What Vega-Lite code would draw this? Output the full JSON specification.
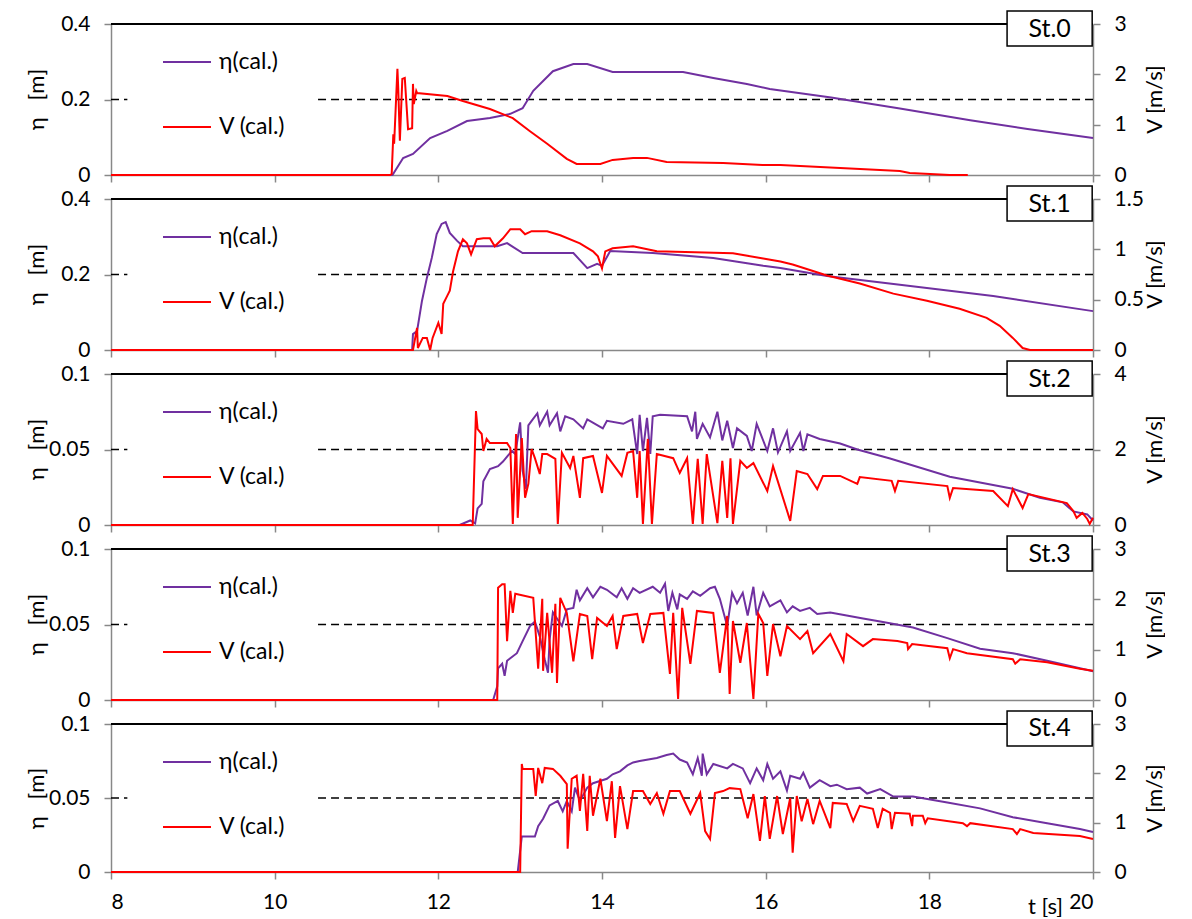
{
"$schema":"https://vega.github.io/schema/vega-lite/v6.json",
"padding":{"left":25,"top":10,"right":0,"bottom":0},
"spacing":0,
"config":{"view":{"stroke":null},"font":"Lato",
"axis":{"domainColor":"#888888","tickColor":"#888888","labelColor":"black","labelFontSize":21,"labelFont":"Lato","titleFont":"Lato","titleFontSize":22,"titleFontWeight":"normal","titleColor":"black","grid":false,"tickSize":7,"labelPadding":14,"domainWidth":1.5,"tickWidth":1.5},
"legend":{"orient":"none","legendX":51,"legendY":13,"symbolType":"stroke","symbolSize":2304,"symbolStrokeWidth":2,"labelFontSize":23,"labelFont":"Lato","labelColor":"black","rowPadding":28,"padding":0,"labelOffset":7,"title":null}},
"resolve":{"scale":{"color":"independent"},"legend":{"color":"independent"}},
"datasets":{
"e0":[{"t":8,"y":0},{"t":11.44,"y":0},{"t":11.57,"y":0.045},{"t":11.69,"y":0.056},{"t":11.9,"y":0.098},{"t":12.11,"y":0.117},{"t":12.35,"y":0.143},{"t":12.63,"y":0.151},{"t":12.88,"y":0.162},{"t":13.03,"y":0.177},{"t":13.16,"y":0.223},{"t":13.4,"y":0.275},{"t":13.65,"y":0.294},{"t":13.82,"y":0.294},{"t":14.13,"y":0.273},{"t":14.99,"y":0.273},{"t":15.36,"y":0.257},{"t":15.77,"y":0.241},{"t":16.05,"y":0.228},{"t":16.8,"y":0.205},{"t":17.64,"y":0.176},{"t":18.5,"y":0.145},{"t":19.2,"y":0.122},{"t":20,"y":0.098}],
"v0":[{"t":8,"y":0},{"t":11.41,"y":0},{"t":11.43,"y":0.02},{"t":11.45,"y":0.81},{"t":11.46,"y":0.62},{"t":11.5,"y":2.11},{"t":11.51,"y":1.73},{"t":11.53,"y":0.68},{"t":11.56,"y":1.91},{"t":11.59,"y":1.93},{"t":11.63,"y":0.91},{"t":11.68,"y":0.93},{"t":11.69,"y":1.81},{"t":11.7,"y":1.41},{"t":11.73,"y":1.67},{"t":11.74,"y":1.63},{"t":12.11,"y":1.57},{"t":12.3,"y":1.47},{"t":12.63,"y":1.31},{"t":12.91,"y":1.13},{"t":13.12,"y":0.87},{"t":13.33,"y":0.62},{"t":13.57,"y":0.32},{"t":13.69,"y":0.22},{"t":13.98,"y":0.22},{"t":14.13,"y":0.3},{"t":14.38,"y":0.34},{"t":14.55,"y":0.34},{"t":14.79,"y":0.26},{"t":15.48,"y":0.24},{"t":15.96,"y":0.2},{"t":16.18,"y":0.2},{"t":17.64,"y":0.08},{"t":17.76,"y":0.04},{"t":18.01,"y":0.02},{"t":18.25,"y":0},{"t":18.47,"y":0}],
"e1":[{"t":8,"y":0},{"t":11.68,"y":0},{"t":11.69,"y":0.042},{"t":11.74,"y":0.05},{"t":11.8,"y":0.13},{"t":11.86,"y":0.191},{"t":11.92,"y":0.244},{"t":11.98,"y":0.307},{"t":12.04,"y":0.334},{"t":12.09,"y":0.339},{"t":12.14,"y":0.31},{"t":12.23,"y":0.289},{"t":12.3,"y":0.275},{"t":12.72,"y":0.275},{"t":12.84,"y":0.283},{"t":13.03,"y":0.257},{"t":13.65,"y":0.257},{"t":13.82,"y":0.217},{"t":13.94,"y":0.228},{"t":14.0,"y":0.223},{"t":14.1,"y":0.262},{"t":14.62,"y":0.257},{"t":15.36,"y":0.244},{"t":15.97,"y":0.223},{"t":16.18,"y":0.217},{"t":16.75,"y":0.196},{"t":17.97,"y":0.164},{"t":18.78,"y":0.143},{"t":20,"y":0.103}],
"v1":[{"t":8,"y":0},{"t":11.69,"y":0},{"t":11.74,"y":0.22},{"t":11.75,"y":0.02},{"t":11.81,"y":0.12},{"t":11.86,"y":0.12},{"t":11.9,"y":0},{"t":11.93,"y":0.12},{"t":12.0,"y":0.27},{"t":12.04,"y":0.16},{"t":12.06,"y":0.46},{"t":12.11,"y":0.54},{"t":12.14,"y":0.59},{"t":12.18,"y":0.78},{"t":12.24,"y":0.98},{"t":12.3,"y":1.1},{"t":12.35,"y":1.06},{"t":12.4,"y":0.95},{"t":12.47,"y":1.1},{"t":12.55,"y":1.11},{"t":12.63,"y":1.11},{"t":12.69,"y":1.03},{"t":12.79,"y":1.11},{"t":12.88,"y":1.2},{"t":13.0,"y":1.2},{"t":13.06,"y":1.15},{"t":13.14,"y":1.18},{"t":13.33,"y":1.18},{"t":13.49,"y":1.14},{"t":13.73,"y":1.06},{"t":13.89,"y":0.98},{"t":13.95,"y":0.93},{"t":14.0,"y":0.81},{"t":14.04,"y":0.98},{"t":14.13,"y":1.01},{"t":14.38,"y":1.03},{"t":14.67,"y":0.98},{"t":15.6,"y":0.96},{"t":15.97,"y":0.91},{"t":16.18,"y":0.88},{"t":16.33,"y":0.85},{"t":16.75,"y":0.74},{"t":17.15,"y":0.66},{"t":17.56,"y":0.56},{"t":17.97,"y":0.49},{"t":18.37,"y":0.41},{"t":18.7,"y":0.32},{"t":18.86,"y":0.24},{"t":19.02,"y":0.12},{"t":19.14,"y":0.02},{"t":19.23,"y":0},{"t":20,"y":0}],
"e2":[{"t":8,"y":0},{"t":12.26,"y":0},{"t":12.39,"y":0.003},{"t":12.45,"y":0.001},{"t":12.48,"y":0.011},{"t":12.53,"y":0.014},{"t":12.55,"y":0.029},{"t":12.63,"y":0.037},{"t":12.73,"y":0.039},{"t":12.79,"y":0.042},{"t":12.85,"y":0.046},{"t":12.9,"y":0.049},{"t":12.94,"y":0.047},{"t":13.0,"y":0.068},{"t":13.03,"y":0.036},{"t":13.07,"y":0.024},{"t":13.1,"y":0.066},{"t":13.14,"y":0.069},{"t":13.21,"y":0.074},{"t":13.24,"y":0.066},{"t":13.33,"y":0.075},{"t":13.36,"y":0.066},{"t":13.45,"y":0.074},{"t":13.49,"y":0.062},{"t":13.55,"y":0.072},{"t":13.65,"y":0.07},{"t":13.77,"y":0.064},{"t":13.82,"y":0.07},{"t":14.01,"y":0.064},{"t":14.06,"y":0.069},{"t":14.26,"y":0.067},{"t":14.37,"y":0.07},{"t":14.43,"y":0.047},{"t":14.46,"y":0.073},{"t":14.5,"y":0.049},{"t":14.55,"y":0.071},{"t":14.59,"y":0.047},{"t":14.62,"y":0.072},{"t":14.71,"y":0.073},{"t":15.04,"y":0.072},{"t":15.1,"y":0.062},{"t":15.14,"y":0.075},{"t":15.16,"y":0.057},{"t":15.23,"y":0.067},{"t":15.32,"y":0.058},{"t":15.41,"y":0.075},{"t":15.47,"y":0.056},{"t":15.53,"y":0.069},{"t":15.6,"y":0.051},{"t":15.65,"y":0.064},{"t":15.77,"y":0.059},{"t":15.83,"y":0.049},{"t":15.89,"y":0.067},{"t":16.02,"y":0.049},{"t":16.09,"y":0.064},{"t":16.15,"y":0.048},{"t":16.26,"y":0.062},{"t":16.3,"y":0.049},{"t":16.42,"y":0.061},{"t":16.46,"y":0.049},{"t":16.51,"y":0.06},{"t":16.66,"y":0.057},{"t":16.91,"y":0.054},{"t":17.12,"y":0.05},{"t":17.52,"y":0.044},{"t":18.25,"y":0.032},{"t":19.02,"y":0.024},{"t":19.35,"y":0.018},{"t":19.63,"y":0.015},{"t":19.76,"y":0.009},{"t":19.93,"y":0.007},{"t":20,"y":0.003}],
"v2":[{"t":8,"y":0},{"t":12.42,"y":0},{"t":12.46,"y":3.02},{"t":12.48,"y":2.54},{"t":12.53,"y":2.41},{"t":12.55,"y":1.96},{"t":12.59,"y":2.28},{"t":12.63,"y":2.17},{"t":12.84,"y":2.17},{"t":12.88,"y":2.04},{"t":12.91,"y":0.03},{"t":12.95,"y":2.41},{"t":12.97,"y":0.19},{"t":13.02,"y":2.3},{"t":13.06,"y":0.72},{"t":13.1,"y":1.09},{"t":13.14,"y":2.01},{"t":13.18,"y":1.77},{"t":13.24,"y":1.35},{"t":13.27,"y":1.88},{"t":13.33,"y":1.88},{"t":13.43,"y":1.75},{"t":13.46,"y":0.03},{"t":13.51,"y":1.91},{"t":13.61,"y":1.51},{"t":13.65,"y":1.83},{"t":13.73,"y":0.72},{"t":13.77,"y":1.77},{"t":13.89,"y":1.83},{"t":14.0,"y":0.85},{"t":14.06,"y":1.83},{"t":14.24,"y":1.3},{"t":14.31,"y":1.91},{"t":14.38,"y":1.96},{"t":14.43,"y":0.72},{"t":14.46,"y":1.96},{"t":14.5,"y":0.03},{"t":14.56,"y":2.28},{"t":14.61,"y":0.03},{"t":14.67,"y":1.88},{"t":14.87,"y":1.77},{"t":14.95,"y":1.38},{"t":15.04,"y":1.77},{"t":15.11,"y":0.03},{"t":15.17,"y":1.75},{"t":15.23,"y":0.03},{"t":15.28,"y":1.88},{"t":15.41,"y":0.05},{"t":15.47,"y":1.7},{"t":15.53,"y":0.19},{"t":15.57,"y":1.77},{"t":15.6,"y":0.03},{"t":15.69,"y":1.7},{"t":15.77,"y":1.51},{"t":15.85,"y":1.64},{"t":16.02,"y":0.9},{"t":16.09,"y":1.56},{"t":16.3,"y":0.11},{"t":16.38,"y":1.43},{"t":16.51,"y":1.35},{"t":16.63,"y":0.95},{"t":16.7,"y":1.3},{"t":16.91,"y":1.3},{"t":17.12,"y":1.09},{"t":17.15,"y":1.27},{"t":17.54,"y":1.17},{"t":17.58,"y":0.9},{"t":17.62,"y":1.17},{"t":18.22,"y":1.03},{"t":18.25,"y":0.72},{"t":18.29,"y":0.98},{"t":18.78,"y":0.9},{"t":18.96,"y":0.5},{"t":19.02,"y":0.95},{"t":19.14,"y":0.45},{"t":19.21,"y":0.82},{"t":19.68,"y":0.58},{"t":19.76,"y":0.37},{"t":19.8,"y":0.19},{"t":19.87,"y":0.32},{"t":19.93,"y":0.16},{"t":19.96,"y":0.03},{"t":20,"y":0.19}],
"e3":[{"t":8,"y":0},{"t":12.67,"y":0},{"t":12.72,"y":0.009},{"t":12.73,"y":0.021},{"t":12.78,"y":0.024},{"t":12.81,"y":0.016},{"t":12.84,"y":0.026},{"t":12.96,"y":0.031},{"t":13.03,"y":0.039},{"t":13.12,"y":0.049},{"t":13.18,"y":0.052},{"t":13.24,"y":0.042},{"t":13.3,"y":0.027},{"t":13.34,"y":0.018},{"t":13.36,"y":0.04},{"t":13.4,"y":0.058},{"t":13.51,"y":0.049},{"t":13.57,"y":0.06},{"t":13.65,"y":0.061},{"t":13.69,"y":0.073},{"t":13.73,"y":0.066},{"t":13.82,"y":0.074},{"t":13.89,"y":0.068},{"t":13.98,"y":0.075},{"t":14.06,"y":0.073},{"t":14.18,"y":0.068},{"t":14.24,"y":0.074},{"t":14.31,"y":0.067},{"t":14.38,"y":0.074},{"t":14.46,"y":0.071},{"t":14.62,"y":0.075},{"t":14.71,"y":0.071},{"t":14.77,"y":0.077},{"t":14.81,"y":0.059},{"t":14.86,"y":0.071},{"t":14.92,"y":0.06},{"t":14.95,"y":0.07},{"t":15.04,"y":0.067},{"t":15.11,"y":0.072},{"t":15.2,"y":0.069},{"t":15.32,"y":0.074},{"t":15.38,"y":0.075},{"t":15.44,"y":0.067},{"t":15.53,"y":0.049},{"t":15.59,"y":0.071},{"t":15.65,"y":0.064},{"t":15.72,"y":0.071},{"t":15.78,"y":0.056},{"t":15.85,"y":0.075},{"t":15.89,"y":0.056},{"t":15.97,"y":0.071},{"t":16.05,"y":0.062},{"t":16.18,"y":0.066},{"t":16.26,"y":0.058},{"t":16.33,"y":0.062},{"t":16.42,"y":0.059},{"t":16.54,"y":0.061},{"t":16.63,"y":0.057},{"t":16.79,"y":0.058},{"t":16.99,"y":0.056},{"t":17.19,"y":0.054},{"t":17.4,"y":0.052},{"t":17.8,"y":0.048},{"t":18.22,"y":0.041},{"t":18.62,"y":0.034},{"t":19.02,"y":0.031},{"t":19.44,"y":0.026},{"t":19.84,"y":0.021},{"t":20,"y":0.019}],
"v3":[{"t":8,"y":0},{"t":12.72,"y":0},{"t":12.73,"y":2.23},{"t":12.78,"y":2.3},{"t":12.81,"y":2.3},{"t":12.84,"y":1.17},{"t":12.88,"y":2.17},{"t":12.91,"y":1.73},{"t":12.94,"y":2.11},{"t":13.16,"y":2.03},{"t":13.22,"y":0.62},{"t":13.27,"y":2.01},{"t":13.28,"y":0.58},{"t":13.33,"y":1.73},{"t":13.39,"y":0.54},{"t":13.43,"y":1.91},{"t":13.45,"y":0.34},{"t":13.49,"y":2.03},{"t":13.57,"y":1.73},{"t":13.65,"y":0.77},{"t":13.73,"y":1.71},{"t":13.82,"y":1.67},{"t":13.88,"y":0.81},{"t":13.94,"y":1.63},{"t":14.06,"y":1.47},{"t":14.13,"y":1.67},{"t":14.18,"y":1.01},{"t":14.26,"y":1.67},{"t":14.43,"y":1.71},{"t":14.5,"y":1.13},{"t":14.59,"y":1.71},{"t":14.75,"y":1.73},{"t":14.83,"y":0.52},{"t":14.87,"y":1.73},{"t":14.93,"y":0.02},{"t":14.98,"y":1.83},{"t":15.08,"y":0.72},{"t":15.16,"y":1.77},{"t":15.36,"y":1.73},{"t":15.44,"y":0.54},{"t":15.53,"y":1.67},{"t":15.56,"y":0.12},{"t":15.6,"y":1.57},{"t":15.69,"y":0.74},{"t":15.77,"y":1.53},{"t":15.85,"y":0.02},{"t":15.91,"y":1.71},{"t":15.97,"y":1.53},{"t":16.02,"y":0.48},{"t":16.09,"y":1.51},{"t":16.18,"y":0.87},{"t":16.26,"y":1.47},{"t":16.42,"y":1.21},{"t":16.51,"y":1.37},{"t":16.58,"y":0.93},{"t":16.79,"y":1.31},{"t":16.95,"y":0.77},{"t":16.99,"y":1.31},{"t":17.19,"y":1.07},{"t":17.31,"y":1.21},{"t":17.61,"y":1.17},{"t":17.73,"y":1.13},{"t":17.74,"y":1.01},{"t":17.79,"y":1.11},{"t":18.22,"y":1.03},{"t":18.25,"y":0.83},{"t":18.29,"y":1.01},{"t":18.46,"y":0.93},{"t":19.02,"y":0.81},{"t":19.05,"y":0.72},{"t":19.11,"y":0.81},{"t":19.44,"y":0.75},{"t":19.84,"y":0.62},{"t":20,"y":0.58}],
"e4":[{"t":8,"y":0},{"t":12.97,"y":0},{"t":13.02,"y":0.024},{"t":13.18,"y":0.024},{"t":13.22,"y":0.031},{"t":13.28,"y":0.036},{"t":13.36,"y":0.045},{"t":13.46,"y":0.048},{"t":13.52,"y":0.041},{"t":13.57,"y":0.048},{"t":13.63,"y":0.041},{"t":13.67,"y":0.057},{"t":13.73,"y":0.048},{"t":13.82,"y":0.057},{"t":13.89,"y":0.06},{"t":14.06,"y":0.063},{"t":14.13,"y":0.066},{"t":14.22,"y":0.068},{"t":14.31,"y":0.072},{"t":14.38,"y":0.074},{"t":14.46,"y":0.075},{"t":14.67,"y":0.077},{"t":14.79,"y":0.079},{"t":14.87,"y":0.08},{"t":14.95,"y":0.076},{"t":15.04,"y":0.074},{"t":15.11,"y":0.066},{"t":15.17,"y":0.077},{"t":15.22,"y":0.065},{"t":15.23,"y":0.08},{"t":15.28,"y":0.066},{"t":15.36,"y":0.073},{"t":15.53,"y":0.07},{"t":15.6,"y":0.073},{"t":15.72,"y":0.07},{"t":15.81,"y":0.06},{"t":15.89,"y":0.07},{"t":15.97,"y":0.062},{"t":16.02,"y":0.073},{"t":16.09,"y":0.063},{"t":16.18,"y":0.068},{"t":16.26,"y":0.055},{"t":16.3,"y":0.065},{"t":16.42,"y":0.063},{"t":16.46,"y":0.067},{"t":16.54,"y":0.057},{"t":16.66,"y":0.062},{"t":16.79,"y":0.058},{"t":16.87,"y":0.059},{"t":16.99,"y":0.056},{"t":17.15,"y":0.057},{"t":17.24,"y":0.053},{"t":17.4,"y":0.056},{"t":17.56,"y":0.051},{"t":17.8,"y":0.051},{"t":18.22,"y":0.047},{"t":18.62,"y":0.043},{"t":19.02,"y":0.037},{"t":19.44,"y":0.033},{"t":19.84,"y":0.029},{"t":20,"y":0.027}],
"v4":[{"t":8,"y":0},{"t":13.0,"y":0},{"t":13.02,"y":2.19},{"t":13.03,"y":2.09},{"t":13.16,"y":2.09},{"t":13.19,"y":1.54},{"t":13.22,"y":2.11},{"t":13.27,"y":1.8},{"t":13.3,"y":2.11},{"t":13.4,"y":2.09},{"t":13.49,"y":1.95},{"t":13.57,"y":1.78},{"t":13.58,"y":0.47},{"t":13.63,"y":1.89},{"t":13.69,"y":1.95},{"t":13.73,"y":1.24},{"t":13.77,"y":1.99},{"t":13.82,"y":0.83},{"t":13.85,"y":1.95},{"t":13.89,"y":1.14},{"t":13.98,"y":1.89},{"t":14.06,"y":1.03},{"t":14.12,"y":1.84},{"t":14.16,"y":0.69},{"t":14.22,"y":1.74},{"t":14.31,"y":0.87},{"t":14.38,"y":1.64},{"t":14.5,"y":1.64},{"t":14.59,"y":1.38},{"t":14.67,"y":1.6},{"t":14.75,"y":1.18},{"t":14.83,"y":1.64},{"t":14.95,"y":1.64},{"t":15.08,"y":1.18},{"t":15.2,"y":1.6},{"t":15.26,"y":0.83},{"t":15.32,"y":0.67},{"t":15.38,"y":1.6},{"t":15.48,"y":1.64},{"t":15.56,"y":1.7},{"t":15.69,"y":1.68},{"t":15.78,"y":1.09},{"t":15.85,"y":1.58},{"t":15.93,"y":0.63},{"t":15.99,"y":1.54},{"t":16.05,"y":0.67},{"t":16.14,"y":1.54},{"t":16.21,"y":0.77},{"t":16.3,"y":1.5},{"t":16.33,"y":0.39},{"t":16.38,"y":1.54},{"t":16.44,"y":1.03},{"t":16.51,"y":1.48},{"t":16.58,"y":0.97},{"t":16.66,"y":1.44},{"t":16.79,"y":0.89},{"t":16.82,"y":1.4},{"t":16.99,"y":1.38},{"t":17.07,"y":1.03},{"t":17.15,"y":1.34},{"t":17.31,"y":1.28},{"t":17.37,"y":0.89},{"t":17.43,"y":1.28},{"t":17.52,"y":1.2},{"t":17.54,"y":0.87},{"t":17.58,"y":1.2},{"t":17.76,"y":1.18},{"t":17.79,"y":0.93},{"t":17.8,"y":1.14},{"t":17.92,"y":1.14},{"t":17.95,"y":0.99},{"t":17.98,"y":1.09},{"t":18.41,"y":0.99},{"t":18.46,"y":0.93},{"t":18.5,"y":0.99},{"t":19.02,"y":0.87},{"t":19.07,"y":0.77},{"t":19.11,"y":0.87},{"t":19.27,"y":0.79},{"t":19.84,"y":0.73},{"t":20,"y":0.67}]
},
"vconcat":[
{"width":982,"height":151,"resolve":{"scale":{"y":"independent"}},"layer":[
 {"layer":[
  {"data":{"values":[{}]},"mark":{"type":"rule","color":"black","strokeDash":[8,5],"strokeWidth":1.5},"encoding":{"x":{"datum":8,"type":"quantitative","scale":{"domain":[8,20],"nice":false,"zero":false}},"x2":{"datum":8.2},"y":{"datum":0.2,"type":"quantitative"}}},
  {"data":{"values":[{}]},"mark":{"type":"rule","color":"black","strokeDash":[8,5],"strokeWidth":1.5},"encoding":{"x":{"datum":10.53,"type":"quantitative","scale":{"domain":[8,20],"nice":false,"zero":false}},"x2":{"datum":20},"y":{"datum":0.2,"type":"quantitative"}}},
  {"data":{"values":[{}]},"mark":{"type":"rule","color":"black","strokeWidth":2},"encoding":{"x":{"datum":8,"type":"quantitative","scale":{"domain":[8,20],"nice":false,"zero":false}},"x2":{"datum":20},"y":{"datum":0.4,"type":"quantitative"}}},
  {"data":{"name":"e0"},"mark":{"type":"line","strokeWidth":2},"encoding":{
   "x":{"field":"t","type":"quantitative","scale":{"domain":[8,20],"nice":false,"zero":false},"axis":{"values":[8,10,12,14,16,18,20],"labels":false,"title":null}},
   "y":{"field":"y","type":"quantitative","scale":{"domain":[0,0.4],"nice":false},"axis":{"orient":"left","values":[0,0.2,0.4],"format":"~g","title":"η \u00a0 [m]","titleAngle":-90,"titleX":-75,"titleY":75,"titleAlign":"center","titleBaseline":"middle"}},
   "color":{"datum":"η(cal.)","type":"nominal","scale":{"domain":["η(cal.)","V (cal.)"],"range":["#7030A0","#FF0000"]}}}},
  {"data":{"values":[{"s":"St.0"}]},"mark":{"type":"rect","fill":"white","stroke":"black","strokeWidth":1.5},"encoding":{"x":{"datum":18.95,"type":"quantitative","scale":{"domain":[8,20],"nice":false,"zero":false}},"x2":{"datum":19.99},"y":{"datum":0.4344,"type":"quantitative"},"y2":{"datum":0.3417}}},
  {"data":{"values":[{"s":"St.0"}]},"mark":{"type":"text","fontSize":25,"font":"Lato","color":"black"},"encoding":{"x":{"datum":19.47,"type":"quantitative","scale":{"domain":[8,20],"nice":false,"zero":false}},"y":{"datum":0.388,"type":"quantitative"},"text":{"field":"s"}}}
 ]},
 {"data":{"name":"v0"},"mark":{"type":"line","strokeWidth":2},"encoding":{
   "x":{"field":"t","type":"quantitative","scale":{"domain":[8,20],"nice":false,"zero":false}},
   "y":{"field":"y","type":"quantitative","scale":{"domain":[0,3],"nice":false},"axis":{"orient":"right","values":[0,1,2,3],"format":"~g","title":"V [m/s]","titleAngle":-90,"titleX":61,"titleY":75,"titleAlign":"center","titleBaseline":"middle"}},
   "color":{"datum":"V (cal.)","type":"nominal"}}}
]},
{"width":982,"height":151,"resolve":{"scale":{"y":"independent"}},"layer":[
 {"layer":[
  {"data":{"values":[{}]},"mark":{"type":"rule","color":"black","strokeDash":[8,5],"strokeWidth":1.5},"encoding":{"x":{"datum":8,"type":"quantitative","scale":{"domain":[8,20],"nice":false,"zero":false}},"x2":{"datum":8.2},"y":{"datum":0.2,"type":"quantitative"}}},
  {"data":{"values":[{}]},"mark":{"type":"rule","color":"black","strokeDash":[8,5],"strokeWidth":1.5},"encoding":{"x":{"datum":10.53,"type":"quantitative","scale":{"domain":[8,20],"nice":false,"zero":false}},"x2":{"datum":20},"y":{"datum":0.2,"type":"quantitative"}}},
  {"data":{"values":[{}]},"mark":{"type":"rule","color":"black","strokeWidth":2},"encoding":{"x":{"datum":8,"type":"quantitative","scale":{"domain":[8,20],"nice":false,"zero":false}},"x2":{"datum":20},"y":{"datum":0.4,"type":"quantitative"}}},
  {"data":{"name":"e1"},"mark":{"type":"line","strokeWidth":2},"encoding":{
   "x":{"field":"t","type":"quantitative","scale":{"domain":[8,20],"nice":false,"zero":false},"axis":{"values":[8,10,12,14,16,18,20],"labels":false,"title":null}},
   "y":{"field":"y","type":"quantitative","scale":{"domain":[0,0.4],"nice":false},"axis":{"orient":"left","values":[0,0.2,0.4],"format":"~g","title":"η \u00a0 [m]","titleAngle":-90,"titleX":-75,"titleY":75,"titleAlign":"center","titleBaseline":"middle"}},
   "color":{"datum":"η(cal.)","type":"nominal","scale":{"domain":["η(cal.)","V (cal.)"],"range":["#7030A0","#FF0000"]}}}},
  {"data":{"values":[{"s":"St.1"}]},"mark":{"type":"rect","fill":"white","stroke":"black","strokeWidth":1.5},"encoding":{"x":{"datum":18.95,"type":"quantitative","scale":{"domain":[8,20],"nice":false,"zero":false}},"x2":{"datum":19.99},"y":{"datum":0.4344,"type":"quantitative"},"y2":{"datum":0.3417}}},
  {"data":{"values":[{"s":"St.1"}]},"mark":{"type":"text","fontSize":25,"font":"Lato","color":"black"},"encoding":{"x":{"datum":19.47,"type":"quantitative","scale":{"domain":[8,20],"nice":false,"zero":false}},"y":{"datum":0.388,"type":"quantitative"},"text":{"field":"s"}}}
 ]},
 {"data":{"name":"v1"},"mark":{"type":"line","strokeWidth":2},"encoding":{
   "x":{"field":"t","type":"quantitative","scale":{"domain":[8,20],"nice":false,"zero":false}},
   "y":{"field":"y","type":"quantitative","scale":{"domain":[0,1.5],"nice":false},"axis":{"orient":"right","values":[0,0.5,1,1.5],"format":"~g","title":"V [m/s]","titleAngle":-90,"titleX":61,"titleY":75,"titleAlign":"center","titleBaseline":"middle"}},
   "color":{"datum":"V (cal.)","type":"nominal"}}}
]},
{"width":982,"height":151,"resolve":{"scale":{"y":"independent"}},"layer":[
 {"layer":[
  {"data":{"values":[{}]},"mark":{"type":"rule","color":"black","strokeDash":[8,5],"strokeWidth":1.5},"encoding":{"x":{"datum":8,"type":"quantitative","scale":{"domain":[8,20],"nice":false,"zero":false}},"x2":{"datum":8.2},"y":{"datum":0.05,"type":"quantitative"}}},
  {"data":{"values":[{}]},"mark":{"type":"rule","color":"black","strokeDash":[8,5],"strokeWidth":1.5},"encoding":{"x":{"datum":10.53,"type":"quantitative","scale":{"domain":[8,20],"nice":false,"zero":false}},"x2":{"datum":20},"y":{"datum":0.05,"type":"quantitative"}}},
  {"data":{"values":[{}]},"mark":{"type":"rule","color":"black","strokeWidth":2},"encoding":{"x":{"datum":8,"type":"quantitative","scale":{"domain":[8,20],"nice":false,"zero":false}},"x2":{"datum":20},"y":{"datum":0.1,"type":"quantitative"}}},
  {"data":{"name":"e2"},"mark":{"type":"line","strokeWidth":2},"encoding":{
   "x":{"field":"t","type":"quantitative","scale":{"domain":[8,20],"nice":false,"zero":false},"axis":{"values":[8,10,12,14,16,18,20],"labels":false,"title":null}},
   "y":{"field":"y","type":"quantitative","scale":{"domain":[0,0.1],"nice":false},"axis":{"orient":"left","values":[0,0.05,0.1],"format":"~g","title":"η \u00a0 [m]","titleAngle":-90,"titleX":-75,"titleY":75,"titleAlign":"center","titleBaseline":"middle"}},
   "color":{"datum":"η(cal.)","type":"nominal","scale":{"domain":["η(cal.)","V (cal.)"],"range":["#7030A0","#FF0000"]}}}},
  {"data":{"values":[{"s":"St.2"}]},"mark":{"type":"rect","fill":"white","stroke":"black","strokeWidth":1.5},"encoding":{"x":{"datum":18.95,"type":"quantitative","scale":{"domain":[8,20],"nice":false,"zero":false}},"x2":{"datum":19.99},"y":{"datum":0.1086,"type":"quantitative"},"y2":{"datum":0.0854}}},
  {"data":{"values":[{"s":"St.2"}]},"mark":{"type":"text","fontSize":25,"font":"Lato","color":"black"},"encoding":{"x":{"datum":19.47,"type":"quantitative","scale":{"domain":[8,20],"nice":false,"zero":false}},"y":{"datum":0.097,"type":"quantitative"},"text":{"field":"s"}}}
 ]},
 {"data":{"name":"v2"},"mark":{"type":"line","strokeWidth":2},"encoding":{
   "x":{"field":"t","type":"quantitative","scale":{"domain":[8,20],"nice":false,"zero":false}},
   "y":{"field":"y","type":"quantitative","scale":{"domain":[0,4],"nice":false},"axis":{"orient":"right","values":[0,2,4],"format":"~g","title":"V [m/s]","titleAngle":-90,"titleX":61,"titleY":75,"titleAlign":"center","titleBaseline":"middle"}},
   "color":{"datum":"V (cal.)","type":"nominal"}}}
]},
{"width":982,"height":151,"resolve":{"scale":{"y":"independent"}},"layer":[
 {"layer":[
  {"data":{"values":[{}]},"mark":{"type":"rule","color":"black","strokeDash":[8,5],"strokeWidth":1.5},"encoding":{"x":{"datum":8,"type":"quantitative","scale":{"domain":[8,20],"nice":false,"zero":false}},"x2":{"datum":8.2},"y":{"datum":0.05,"type":"quantitative"}}},
  {"data":{"values":[{}]},"mark":{"type":"rule","color":"black","strokeDash":[8,5],"strokeWidth":1.5},"encoding":{"x":{"datum":10.53,"type":"quantitative","scale":{"domain":[8,20],"nice":false,"zero":false}},"x2":{"datum":20},"y":{"datum":0.05,"type":"quantitative"}}},
  {"data":{"values":[{}]},"mark":{"type":"rule","color":"black","strokeWidth":2},"encoding":{"x":{"datum":8,"type":"quantitative","scale":{"domain":[8,20],"nice":false,"zero":false}},"x2":{"datum":20},"y":{"datum":0.1,"type":"quantitative"}}},
  {"data":{"name":"e3"},"mark":{"type":"line","strokeWidth":2},"encoding":{
   "x":{"field":"t","type":"quantitative","scale":{"domain":[8,20],"nice":false,"zero":false},"axis":{"values":[8,10,12,14,16,18,20],"labels":false,"title":null}},
   "y":{"field":"y","type":"quantitative","scale":{"domain":[0,0.1],"nice":false},"axis":{"orient":"left","values":[0,0.05,0.1],"format":"~g","title":"η \u00a0 [m]","titleAngle":-90,"titleX":-75,"titleY":75,"titleAlign":"center","titleBaseline":"middle"}},
   "color":{"datum":"η(cal.)","type":"nominal","scale":{"domain":["η(cal.)","V (cal.)"],"range":["#7030A0","#FF0000"]}}}},
  {"data":{"values":[{"s":"St.3"}]},"mark":{"type":"rect","fill":"white","stroke":"black","strokeWidth":1.5},"encoding":{"x":{"datum":18.95,"type":"quantitative","scale":{"domain":[8,20],"nice":false,"zero":false}},"x2":{"datum":19.99},"y":{"datum":0.1086,"type":"quantitative"},"y2":{"datum":0.0854}}},
  {"data":{"values":[{"s":"St.3"}]},"mark":{"type":"text","fontSize":25,"font":"Lato","color":"black"},"encoding":{"x":{"datum":19.47,"type":"quantitative","scale":{"domain":[8,20],"nice":false,"zero":false}},"y":{"datum":0.097,"type":"quantitative"},"text":{"field":"s"}}}
 ]},
 {"data":{"name":"v3"},"mark":{"type":"line","strokeWidth":2},"encoding":{
   "x":{"field":"t","type":"quantitative","scale":{"domain":[8,20],"nice":false,"zero":false}},
   "y":{"field":"y","type":"quantitative","scale":{"domain":[0,3],"nice":false},"axis":{"orient":"right","values":[0,1,2,3],"format":"~g","title":"V [m/s]","titleAngle":-90,"titleX":61,"titleY":75,"titleAlign":"center","titleBaseline":"middle"}},
   "color":{"datum":"V (cal.)","type":"nominal"}}}
]},
{"width":982,"height":148,"resolve":{"scale":{"y":"independent"}},"layer":[
 {"layer":[
  {"data":{"values":[{}]},"mark":{"type":"rule","color":"black","strokeDash":[8,5],"strokeWidth":1.5},"encoding":{"x":{"datum":8,"type":"quantitative","scale":{"domain":[8,20],"nice":false,"zero":false}},"x2":{"datum":8.2},"y":{"datum":0.05,"type":"quantitative"}}},
  {"data":{"values":[{}]},"mark":{"type":"rule","color":"black","strokeDash":[8,5],"strokeWidth":1.5},"encoding":{"x":{"datum":10.53,"type":"quantitative","scale":{"domain":[8,20],"nice":false,"zero":false}},"x2":{"datum":20},"y":{"datum":0.05,"type":"quantitative"}}},
  {"data":{"values":[{}]},"mark":{"type":"rule","color":"black","strokeWidth":2},"encoding":{"x":{"datum":8,"type":"quantitative","scale":{"domain":[8,20],"nice":false,"zero":false}},"x2":{"datum":20},"y":{"datum":0.1,"type":"quantitative"}}},
  {"data":{"name":"e4"},"mark":{"type":"line","strokeWidth":2},"encoding":{
   "x":{"field":"t","type":"quantitative","scale":{"domain":[8,20],"nice":false,"zero":false},"axis":{"values":[8,10,12,14,16,18,20],"format":"~g","labelPadding":12,"title":"t [s]","titleX":934,"titleY":34,"titleAlign":"center","titleBaseline":"middle"}},
   "y":{"field":"y","type":"quantitative","scale":{"domain":[0,0.1],"nice":false},"axis":{"orient":"left","values":[0,0.05,0.1],"format":"~g","title":"η \u00a0 [m]","titleAngle":-90,"titleX":-75,"titleY":74,"titleAlign":"center","titleBaseline":"middle"}},
   "color":{"datum":"η(cal.)","type":"nominal","scale":{"domain":["η(cal.)","V (cal.)"],"range":["#7030A0","#FF0000"]}}}},
  {"data":{"values":[{"s":"St.4"}]},"mark":{"type":"rect","fill":"white","stroke":"black","strokeWidth":1.5},"encoding":{"x":{"datum":18.95,"type":"quantitative","scale":{"domain":[8,20],"nice":false,"zero":false}},"x2":{"datum":19.99},"y":{"datum":0.1088,"type":"quantitative"},"y2":{"datum":0.0851}}},
  {"data":{"values":[{"s":"St.4"}]},"mark":{"type":"text","fontSize":25,"font":"Lato","color":"black"},"encoding":{"x":{"datum":19.47,"type":"quantitative","scale":{"domain":[8,20],"nice":false,"zero":false}},"y":{"datum":0.097,"type":"quantitative"},"text":{"field":"s"}}}
 ]},
 {"data":{"name":"v4"},"mark":{"type":"line","strokeWidth":2},"encoding":{
   "x":{"field":"t","type":"quantitative","scale":{"domain":[8,20],"nice":false,"zero":false}},
   "y":{"field":"y","type":"quantitative","scale":{"domain":[0,3],"nice":false},"axis":{"orient":"right","values":[0,1,2,3],"format":"~g","title":"V [m/s]","titleAngle":-90,"titleX":61,"titleY":74,"titleAlign":"center","titleBaseline":"middle"}},
   "color":{"datum":"V (cal.)","type":"nominal"}}}
]}
]
}
